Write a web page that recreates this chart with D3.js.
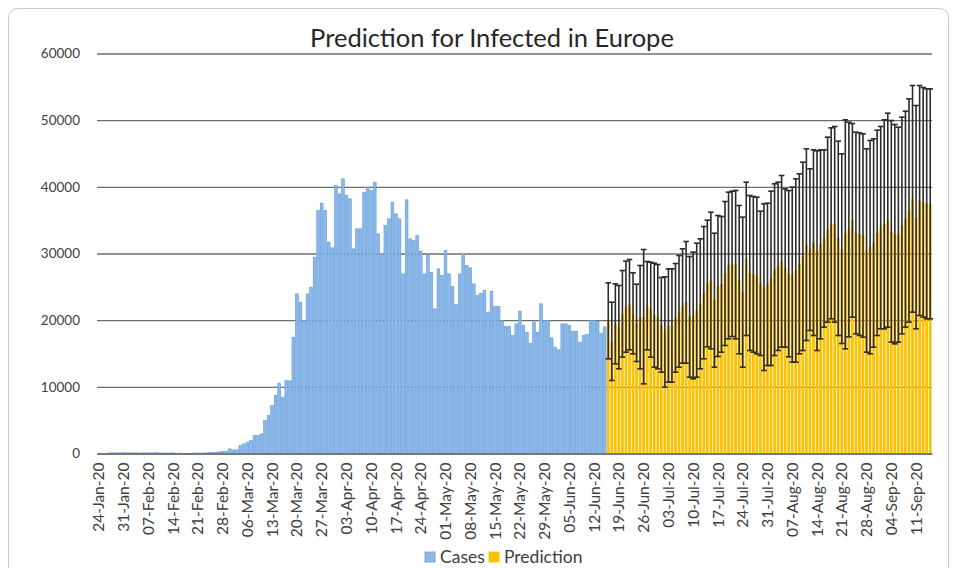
<!DOCTYPE html>
<html>
<head>
<meta charset="utf-8">
<script src="https://cdn.jsdelivr.net/npm/d3@7/dist/d3.min.js"></script>
<style>
  html, body { margin: 0; padding: 0; background: #fff; }
  svg { display: block; font-family: Lato, "Open Sans", "Liberation Sans", sans-serif; }
</style>
</head>
<body>
<svg id="chart" width="955" height="568"></svg>
<script>
// First day of the daily series
const startDate = "2020-01-24";

// Reported daily infections, 24-Jan-20 .. 15-Jun-20
const cases = [
  30, 0, 40, 80, 100, 90, 110, 120, 90, 100,
  120, 100, 80, 110, 100, 90, 120, 100, 80, 90,
  70, 100, 0, 60, 0, 0, 0, 80, 90, 70,
  100, 120, 150, 180, 250, 300, 350, 700, 550, 550,
  1200, 1450, 1700, 1950, 2700, 2700, 2950, 4950, 5700, 7200,
  8700, 10550, 8450, 10950, 10900, 17450, 23950, 22700, 19950, 23950,
  24950, 29450, 36450, 37550, 36450, 31700, 30850, 40200, 38950, 41200,
  38700, 38200, 30700, 33700, 33700, 39200, 39950, 39450, 40700, 32950,
  29950, 34200, 35200, 37700, 35950, 35200, 26950, 38050, 32200, 31950,
  32700, 30350, 26950, 29700, 27200, 21700, 27700, 26700, 30450, 26950,
  25050, 22350, 26950, 30050, 28200, 27850, 25450, 23700, 24050, 24450,
  21200, 24350, 22050, 22050, 19950, 19050, 19050, 17700, 19450, 21350,
  19200, 18200, 16550, 19700, 18200, 22450, 19950, 19950, 17350, 15950,
  15550, 19450, 19450, 19200, 18350, 18350, 16700, 17700, 17850, 19950,
  19950, 19850, 18050, 19000
];

// Predicted daily infections, 16-Jun-20 .. 15-Sep-20
const predicted = [
  19900, 16800, 19450, 18950, 20950, 22000, 22300, 21000, 19600, 20450,
  20500, 22200, 21600, 20750, 20500, 19300, 18200, 19200, 19200, 20350,
  21300, 22100, 22700, 20500, 20700, 21500, 22450, 24100, 25500, 25950,
  23000, 25100, 25400, 27000, 28200, 28450, 28300, 26100, 24200, 29200,
  27100, 26900, 26700, 25500, 24950, 25400, 26300, 27600, 28100, 28800,
  27800, 27000, 26800, 27450, 28450, 29600, 31300, 30600, 31600, 30400,
  31400, 32250, 33600, 34500, 34400, 32300, 30700, 32900, 33600, 35000,
  33100, 32900, 32700, 30450, 30950, 31600, 33100, 33900, 34400, 35000,
  33300, 32900, 32800, 34200, 35150, 36450, 38200, 35450, 37950, 37700,
  37450, 37450
];

// Upper end of each prediction's error bar
const upper = [
  25600, 22700, 25450, 25200, 27450, 28850, 29100, 27100, 25400, 28200,
  30600, 28800, 28700, 28550, 28350, 26400, 26500, 27700, 27700, 28500,
  29700, 30700, 31800, 29550, 30200, 31550, 32200, 34050, 35000, 36200,
  33050, 35700, 35550, 37800, 39200, 39350, 39450, 37200, 35450, 40700,
  38700, 38550, 38450, 36350, 37450, 37550, 39350, 40450, 40700, 41700,
  39700, 39450, 39950, 41200, 41950, 43700, 45700, 42700, 45550, 45400,
  45550, 45550, 47450, 48850, 49050, 46850, 44950, 50050, 49700, 49500,
  48200, 48100, 47950, 45700, 46950, 47200, 48500, 49050, 50050, 51050,
  49950, 49350, 48950, 50450, 51350, 53200, 55200, 52200, 55200, 54900,
  54700, 54700
];

// Lower end of each prediction's error bar
const lower = [
  14200, 10950, 13450, 12700, 14450, 15200, 15550, 14950, 13800, 12700,
  10450, 15550, 14450, 12950, 12700, 12200, 9950, 10700, 10700, 12200,
  12950, 13550, 13550, 11450, 11200, 11450, 12700, 14200, 16000, 15700,
  12950, 14550, 15200, 16200, 17200, 17550, 17200, 14950, 12950, 17700,
  15450, 15200, 14950, 14700, 12450, 13200, 13200, 14700, 15450, 15950,
  15950, 14500, 13700, 13700, 14950, 15450, 16950, 18450, 17700, 15450,
  17200, 18950, 19700, 20200, 19700, 17700, 16500, 15700, 17500, 20450,
  17950, 17700, 17450, 15200, 14950, 15950, 17700, 18700, 18700, 18950,
  16700, 16450, 16700, 17950, 18950, 19700, 21200, 18700, 20700, 20450,
  20200, 20200
];

// Value axis ticks
const yTicks = [0, 10000, 20000, 30000, 40000, 50000, 60000];

// Date labels along the bottom (one per week)
const tickLabels = [
  "24-Jan-20", "31-Jan-20", "07-Feb-20", "14-Feb-20", "21-Feb-20", "28-Feb-20",
  "06-Mar-20", "13-Mar-20", "20-Mar-20", "27-Mar-20", "03-Apr-20", "10-Apr-20",
  "17-Apr-20", "24-Apr-20", "01-May-20", "08-May-20", "15-May-20", "22-May-20",
  "29-May-20", "05-Jun-20", "12-Jun-20", "19-Jun-20", "26-Jun-20", "03-Jul-20",
  "10-Jul-20", "17-Jul-20", "24-Jul-20", "31-Jul-20", "07-Aug-20", "14-Aug-20",
  "21-Aug-20", "28-Aug-20", "04-Sep-20", "11-Sep-20"
];

const seriesNames = ["Cases", "Prediction"];
const colors = { cases: "#8db8e8", casesEdge: "#5f9bdb", pred: "#ffc000", err: "#2b2b2b" };

// ---- build the daily categories ----
const fmt = d3.utcFormat("%d-%b-%y");
const day0 = d3.utcParse("%Y-%m-%d")(startDate);
const nDays = cases.length + predicted.length;
const days = d3.utcDay.range(day0, d3.utcDay.offset(day0, nDays)).map(fmt);

const caseData = cases.map((v, i) => ({ day: days[i], value: v }));
const predData = predicted.map((v, i) => ({
  day: days[cases.length + i], value: v, hi: upper[i], lo: lower[i]
}));

const svg = d3.select("#chart");
const plot = { left: 97, right: 932, top: 53.5, bottom: 453.5 };

// frame around the figure
svg.append("rect")
  .attr("x", 8.5).attr("y", 8.5).attr("width", 940).attr("height", 620)
  .attr("rx", 9).attr("fill", "#fff").attr("stroke", "#c9c9c9").attr("stroke-width", 1);

const x = d3.scaleBand().domain(days).range([plot.left, plot.right])
  .paddingInner(0.22).paddingOuter(0.11);
const y = d3.scaleLinear().domain([0, 60000]).range([plot.bottom, plot.top]);

// horizontal gridlines and value labels
const yAxis = d3.axisLeft(y).tickValues(yTicks).tickFormat(d3.format("d"))
  .tickSize(-(plot.right - plot.left)).tickPadding(17);
const gy = svg.append("g").attr("transform", `translate(${plot.left},0)`).call(yAxis);
gy.select(".domain").remove();
gy.selectAll(".tick line").attr("stroke", "#6e6e6e").attr("stroke-width", 1.3);
gy.selectAll(".tick text").attr("fill", "#404040").style("font-size", "13.5px")
  .style("font-family", "Lato, 'Open Sans', sans-serif");

// reported cases
svg.append("g").selectAll("rect").data(caseData).join("rect")
  .attr("x", d => x(d.day)).attr("width", x.bandwidth())
  .attr("y", d => y(d.value)).attr("height", d => y(0) - y(d.value))
  .attr("fill", colors.cases).attr("stroke", colors.casesEdge).attr("stroke-width", 0.6);

// predictions
svg.append("g").selectAll("rect").data(predData).join("rect")
  .attr("x", d => x(d.day)).attr("width", x.bandwidth())
  .attr("y", d => y(d.value)).attr("height", d => y(0) - y(d.value))
  .attr("fill", colors.pred);

// error bars on the predictions
const capW = 5.6;
const eb = svg.append("g").attr("stroke", colors.err).attr("stroke-width", 1.6).attr("fill", "none");
const ebG = eb.selectAll("g").data(predData).join("g")
  .attr("transform", d => `translate(${x(d.day) + x.bandwidth() / 2},0)`);
ebG.append("line").attr("x1", 0).attr("x2", 0)
  .attr("y1", d => y(d.lo)).attr("y2", d => y(d.hi));
ebG.append("line").attr("x1", -capW / 2).attr("x2", capW / 2)
  .attr("y1", d => y(d.hi)).attr("y2", d => y(d.hi));
ebG.append("line").attr("x1", -capW / 2).attr("x2", capW / 2)
  .attr("y1", d => y(d.lo)).attr("y2", d => y(d.lo));

// category axis with weekly date labels
const xAxis = d3.axisBottom(x).tickValues(tickLabels).tickSize(0).tickFormat(d => d);
const gx = svg.append("g").attr("transform", `translate(0,${plot.bottom})`).call(xAxis);
gx.select(".domain").attr("stroke", "#6e6e6e").attr("stroke-width", 1.3);
gx.selectAll(".tick text")
  .attr("transform", "rotate(-90)")
  .attr("x", -9).attr("y", 0).attr("dy", "0.36em")
  .style("text-anchor", "end")
  .style("font-size", "15.5px")
  .style("font-family", "Lato, 'Open Sans', sans-serif")
  .attr("fill", "#404040");

// title
svg.append("text").attr("x", 492).attr("y", 47).attr("text-anchor", "middle")
  .style("font-size", "25.5px").attr("fill", "#262626")
  .text("Prediction for Infected in Europe");

// legend
const legend = svg.append("g").attr("transform", "translate(0,557)");
const legItems = [
  { name: seriesNames[0], fill: colors.cases, stroke: colors.casesEdge, x: 425 },
  { name: seriesNames[1], fill: colors.pred, stroke: colors.pred, x: 489 }
];
const li = legend.selectAll("g").data(legItems).join("g")
  .attr("transform", d => `translate(${d.x},0)`);
li.append("rect").attr("x", 0).attr("y", -5).attr("width", 10).attr("height", 10)
  .attr("fill", d => d.fill).attr("stroke", d => d.stroke).attr("stroke-width", 0.8);
li.append("text").attr("x", 15).attr("y", 0).attr("dy", "0.36em")
  .style("font-size", "17.5px").attr("fill", "#404040").text(d => d.name);
</script>
</body>
</html>
